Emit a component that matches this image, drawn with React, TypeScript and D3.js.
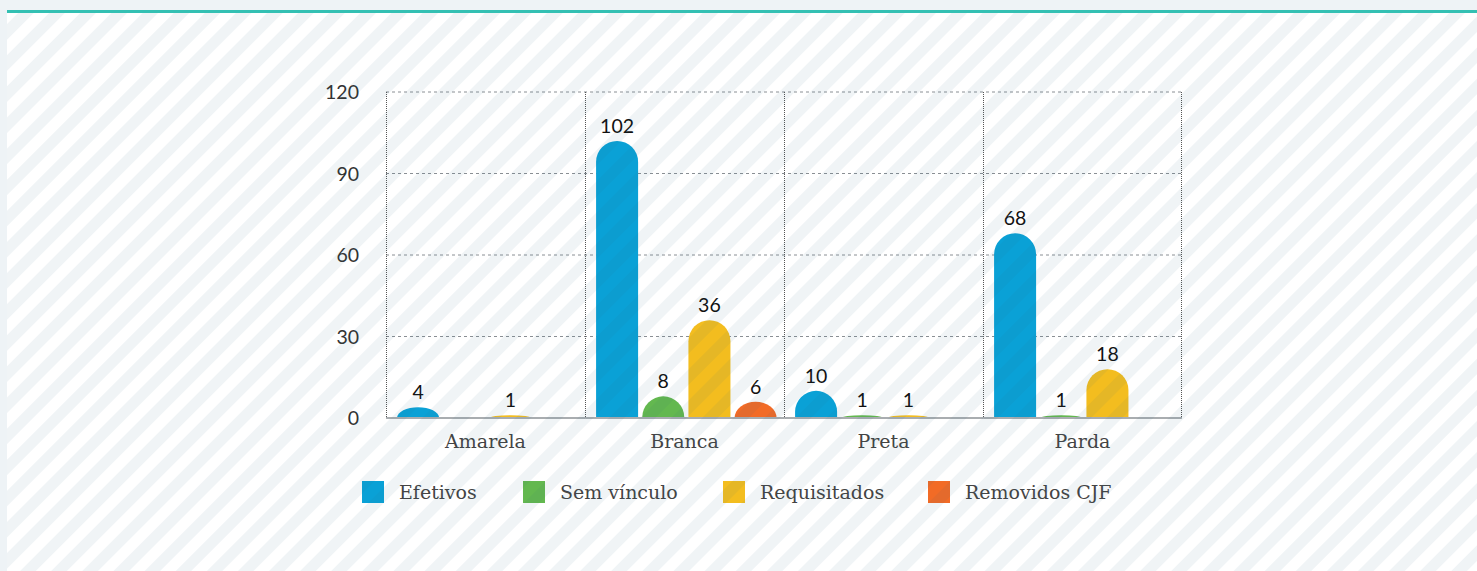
import React from "react";
import * as d3 from "d3";

const categories = ["Amarela", "Branca", "Preta", "Parda"];
const seriesNames = ["Efetivos", "Sem vínculo", "Requisitados", "Removidos CJF"];
const efetivos = [4, 102, 10, 68];
const semVinculo = [0, 8, 1, 1];
const requisitados = [1, 36, 1, 18];
const removidosCJF = [0, 6, 0, 0];
const yTicks = [0, 30, 60, 90, 120];
const seriesColors = ["#0aa1d6", "#63b84f", "#f3bd1f", "#f26b26"];

const seriesValues = [efetivos, semVinculo, requisitados, removidosCJF];

const W = 1477;
const H = 571;
const plotLeft = 386;
const plotRight = 1182;
const plotTop = 92;
const plotBottom = 418;

export default function App() {
  const x0 = d3.scaleBand<string>().domain(categories).range([plotLeft, plotRight]).paddingInner(0).paddingOuter(0);
  const x1 = d3
    .scaleBand<string>()
    .domain(seriesNames)
    .range([0, x0.bandwidth()])
    .paddingInner(0.09)
    .paddingOuter(0.2)
    .align(0.6);
  const y = d3.scaleLinear().domain([0, 120]).range([plotBottom, plotTop]);

  const barPath = (x: number, w: number, v: number) => {
    const y0 = y(0);
    const h = y0 - y(v);
    const r = w / 2;
    const ry = Math.min(r, h);
    return `M${x},${y0} L${x},${y0 - h + ry} A${r},${ry} 0 0 1 ${x + w},${y0 - h + ry} L${x + w},${y0} Z`;
  };

  const legendX = [362, 523, 723, 928];
  const slab = "'DejaVu Serif', serif";
  const sans = "Lato, 'Open Sans', sans-serif";

  return (
    <svg width={W} height={H} style={{ position: "absolute", left: 0, top: 0, display: "block" }}>
      <defs>
        <pattern id="stripes" patternUnits="userSpaceOnUse" width="22" height="22" patternTransform="rotate(45)">
          <rect x="0" y="0" width="11" height="22" fill="rgba(40,100,130,0.07)" />
        </pattern>
      </defs>
      <rect x={0} y={0} width={W} height={H} fill="#eef3f6" />
      <rect x={7} y={10} width={W - 7} height={H - 10} fill="#ffffff" />

      {/* grid */}
      {yTicks.map((t) =>
        t === 0 ? null : (
          <line
            key={"g" + t}
            x1={plotLeft}
            x2={plotRight}
            y1={y(t)}
            y2={y(t)}
            stroke="#8a8f94"
            strokeWidth={1}
            strokeDasharray="3,3"
          />
        )
      )}
      {categories.map((c) => (
        <line
          key={"v" + c}
          x1={(x0(c) as number) + 0.5}
          x2={(x0(c) as number) + 0.5}
          y1={plotTop}
          y2={plotBottom}
          stroke="#555"
          strokeWidth={1}
          strokeDasharray="1,1"
        />
      ))}
      <line x1={plotRight - 0.5} x2={plotRight - 0.5} y1={plotTop} y2={plotBottom} stroke="#555" strokeWidth={1} strokeDasharray="1,1" />

      {/* bars */}
      {categories.map((c, ci) =>
        seriesNames.map((s, si) => {
          const v = seriesValues[si][ci];
          if (!v) return null;
          const bx = (x0(c) as number) + (x1(s) as number);
          return <path key={c + s} d={barPath(bx, x1.bandwidth(), v)} fill={seriesColors[si]} />;
        })
      )}

      {/* axis line */}
      <line x1={plotLeft} x2={plotRight} y1={plotBottom} y2={plotBottom} stroke="#a9adb0" strokeWidth={2} />

      {/* data labels */}
      {categories.map((c, ci) =>
        seriesNames.map((s, si) => {
          const v = seriesValues[si][ci];
          if (!v) return null;
          const bx = (x0(c) as number) + (x1(s) as number) + x1.bandwidth() / 2;
          return (
            <text key={"l" + c + s} x={bx} y={y(v) - 8} textAnchor="middle" fontFamily={sans} fontSize={19.5} fill="#111">
              {v}
            </text>
          );
        })
      )}

      {/* y tick labels */}
      {yTicks.map((t) => (
        <text key={"t" + t} x={359} y={y(t) + 7} textAnchor="end" fontFamily={sans} fontSize={19.5} fill="#333">
          {t}
        </text>
      ))}

      {/* category labels */}
      {categories.map((c) => (
        <text
          key={"c" + c}
          x={(x0(c) as number) + x0.bandwidth() / 2}
          y={448}
          textAnchor="middle"
          fontFamily={slab}
          fontSize={19}
          fill="#444"
        >
          {c}
        </text>
      ))}

      {/* legend */}
      {seriesNames.map((s, i) => (
        <g key={"lg" + s}>
          <rect x={legendX[i]} y={481} width={22} height={22} fill={seriesColors[i]} />
          <text x={legendX[i] + 37} y={499} fontFamily={slab} fontSize={19} fill="#444">
            {s}
          </text>
        </g>
      ))}

      {/* stripe overlay */}
      <rect x={7} y={13} width={W - 7} height={H - 13} fill="url(#stripes)" pointerEvents="none" />
      {/* top teal border */}
      <rect x={7} y={10} width={W - 7} height={3} fill="#34c0b3" />
    </svg>
  );
}
